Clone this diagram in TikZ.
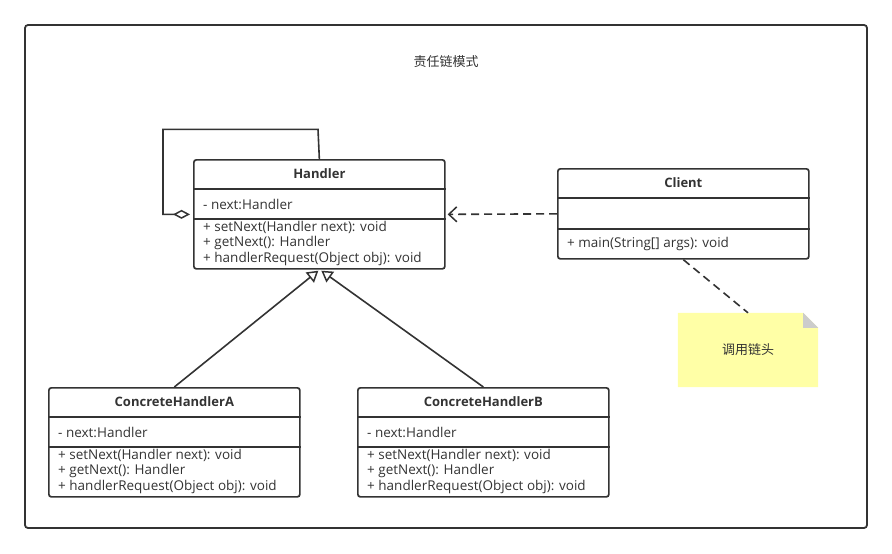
\documentclass[tikz,border=0pt]{standalone}
\usepackage{fontspec}
\setmainfont{Open Sans}
\newfontfamily\cjkfont{Noto Sans CJK SC}
\usepackage{tikz}
\usetikzlibrary{arrows.meta}
\usetikzlibrary{backgrounds}

\definecolor{linegray}{HTML}{333333}
\definecolor{noteyellow}{HTML}{FFFFA6}
\definecolor{foldgray}{HTML}{CCCCCC}

\tikzset{
  classbox/.style={draw=linegray, line width=1.7pt, rounded corners=2.5pt, inner sep=0pt},
  classline/.style={draw=linegray, line width=1.5pt},
  classtitle/.style={font=\fontsize{13}{15}\selectfont\bfseries, text=linegray, inner sep=0pt},
  member/.style={font=\fontsize{13.5}{16}\selectfont, text=linegray, anchor=west, inner sep=0pt},
  link/.style={draw=linegray, line width=1.6pt},
  aggregation/.style={link, {Diamond[open, length=17pt, width=9pt, line width=1.5pt]}-},
  dependency/.style={link, dash pattern=on 8pt off 5pt, -{Straight Barb[length=8pt, width=15pt, line width=1.5pt]}},
  generalization/.style={link, -{Triangle[open, length=11pt, width=13pt, line width=1.5pt]}},
  anchorline/.style={link, dash pattern=on 8pt off 5pt}
}

\begin{document}
\begin{tikzpicture}[x=1pt, y=-1pt]
  \useasboundingbox (0,0) rectangle (892,554);
  % one handler class box: name, left, top, title
  \newcommand\handlerclass[4]{
    \node[classbox, anchor=north west, minimum width=251pt, minimum height=109pt] (#1) at (#2,#3) {};
    \draw[classline] ([yshift=-30pt]#1.north west) -- ([yshift=-30pt]#1.north east);
    \draw[classline] ([yshift=-60pt]#1.north west) -- ([yshift=-60pt]#1.north east);
    \node[classtitle] (#1-title) at ([yshift=-15pt]#1.north) {#4};
    \node[member] (#1-attr) at ([xshift=10pt, yshift=-45pt]#1.north west) {- next:Handler};
    \node[member] (#1-set) at ([xshift=10pt, yshift=-68pt]#1.north west) {+ setNext(Handler next): void};
    \node[member] (#1-get) at ([xshift=10pt, yshift=-84pt]#1.north west) {+ getNext(): Handler};
    \node[member] (#1-req) at ([xshift=10pt, yshift=-100pt]#1.north west) {+ handlerRequest(Object obj): void};
  }

  % outer frame and title
  \draw[line width=1.8pt, draw=linegray, rounded corners=3pt] (25,25) rectangle (867,528);
  \node[font=\cjkfont\fontsize{13}{15}\selectfont, text=linegray] (title) at (446,62) {责任链模式};

  \handlerclass{handler}{193}{159}{Handler}
  \handlerclass{concreteA}{48}{387}{ConcreteHandlerA}
  \handlerclass{concreteB}{357}{387}{ConcreteHandlerB}

  % client
  \node[classbox, anchor=north west, minimum width=251pt, minimum height=90pt] (client) at (557,168) {};
  \draw[classline] ([yshift=-30pt]client.north west) -- ([yshift=-30pt]client.north east);
  \draw[classline] ([yshift=-61pt]client.north west) -- ([yshift=-61pt]client.north east);
  \node[classtitle] (client-title) at ([yshift=-15pt]client.north) {Client};
  \node[member] (client-main) at ([xshift=10pt, yshift=-76pt]client.north west) {+ main(String[] args): void};

  % note
  \node[minimum width=140pt, minimum height=74pt, inner sep=0pt, font=\cjkfont\fontsize{13}{15}\selectfont, text=linegray] (note) at (748,350) {调用链头};
  \begin{scope}[on background layer]
    \fill[noteyellow] (note.north west) -- ([xshift=-15pt]note.north east) -- ([yshift=-15pt]note.north east) -- (note.south east) -- (note.south west) -- cycle;
    \fill[foldgray] ([xshift=-15pt]note.north east) -- ([xshift=-15pt, yshift=-15pt]note.north east) -- ([yshift=-15pt]note.north east) -- cycle;
  \end{scope}

  % connectors
  \draw[aggregation] ([xshift=-3pt]handler.west) -- ++(-27,0) |- ++(155,-85) -- (handler.north);
  \draw[dependency] (client.west) -- ([xshift=2pt]handler.east);
  \draw[generalization] (concreteA.north) -- ([xshift=-1pt, yshift=-1pt]handler.south);
  \draw[generalization] (concreteB.north) -- ([xshift=2pt, yshift=-1pt]handler.south);
  \draw[anchorline] (client.south) -- (note.north);
\end{tikzpicture}
\end{document}
